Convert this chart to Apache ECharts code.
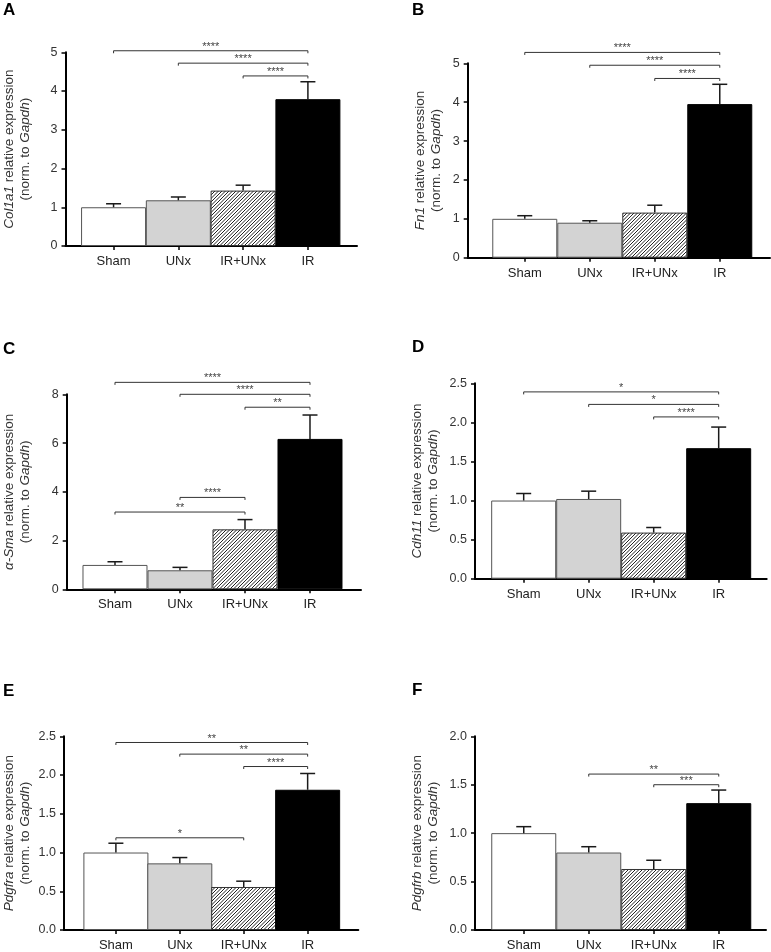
<!DOCTYPE html>
<html>
<head>
<meta charset="utf-8">
<script src="https://cdn.jsdelivr.net/npm/echarts@6/dist/echarts.min.js"></script>
<style>
  html, body { margin: 0; padding: 0; background: #fff; }
  #chart { width: 771px; height: 952px; }
</style>
</head>
<body>
<div id="chart"></div>
<script>
// ---------------- DATA ----------------
const categories = ['Sham', 'UNx', 'IR+UNx', 'IR'];

const col1a1Mean = [1.00, 1.18, 1.43, 3.79];
const col1a1Err  = [0.09, 0.085, 0.14, 0.45];
const fn1Mean    = [1.00, 0.90, 1.16, 3.95];
const fn1Err     = [0.08, 0.05, 0.19, 0.51];
const smaMean    = [1.00, 0.78, 2.46, 6.17];
const smaErr     = [0.13, 0.12, 0.40, 0.98];
const cdh11Mean  = [1.00, 1.02, 0.59, 1.67];
const cdh11Err   = [0.09, 0.10, 0.065, 0.27];
const pdgfraMean = [1.00, 0.86, 0.555, 1.81];
const pdgfraErr  = [0.12, 0.075, 0.075, 0.21];
const pdgfrbMean = [1.00, 0.80, 0.63, 1.31];
const pdgfrbErr  = [0.067, 0.06, 0.09, 0.135];

// significance brackets: [fromCategory, toCategory, yLevel]
const col1a1Brackets = [[0, 3, 5.04], [1, 3, 4.72], [2, 3, 4.39]];
const col1a1Stars    = ['****', '****', '****'];
const fn1Brackets    = [[0, 3, 5.28], [1, 3, 4.95], [2, 3, 4.61]];
const fn1Stars       = ['****', '****', '****'];
const smaBrackets    = [[0, 3, 8.49], [1, 3, 8.0], [2, 3, 7.47], [1, 2, 3.77], [0, 2, 3.17]];
const smaStars       = ['****', '****', '**', '****', '**'];
const cdh11Brackets  = [[0, 3, 2.39], [1, 3, 2.23], [2, 3, 2.07]];
const cdh11Stars     = ['*', '*', '****'];
const pdgfraBrackets = [[0, 3, 2.42], [1, 3, 2.27], [2, 3, 2.11], [0, 2, 1.19]];
const pdgfraStars    = ['**', '**', '****', '*'];
const pdgfrbBrackets = [[1, 3, 1.61], [2, 3, 1.50]];
const pdgfrbStars    = ['**', '***'];

const yTicksA = [0, 5, 1];    // min, max, interval
const yTicksC = [0, 8, 2];
const yTicksD = [0, 2.5, 0.5];
const yTicksF = [0, 2, 0.5];

// ---------------- LAYOUT ----------------
const FONT = 'Liberation Sans, Arial, Helvetica, sans-serif';
const UNIT = 65; // px per category (bars touch)

const panels = [
  { letter: 'A', lx: 3, ly: 2, gene: 'Col1a1', mean: col1a1Mean, err: col1a1Err, br: col1a1Brackets, st: col1a1Stars,
    left: 64.5, top: 52.3, width: 292.5, height: 193.7, xMin: -0.742, y: yTicksA, dec: 0, titleGap: 48.5 },
  { letter: 'B', lx: 412, ly: 2, gene: 'Fn1', mean: fn1Mean, err: fn1Err, br: fn1Brackets, st: fn1Stars,
    left: 467.7, top: 63.3, width: 302.3, height: 194.4, xMin: -0.878, y: yTicksA, dec: 0, titleGap: 39 },
  { letter: 'C', lx: 3, ly: 341, gene: 'α-Sma', mean: smaMean, err: smaErr, br: smaBrackets, st: smaStars,
    left: 66.7, top: 394.3, width: 294.3, height: 195, xMin: -0.743, y: yTicksC, dec: 0, titleGap: 49.7 },
  { letter: 'D', lx: 412, ly: 339, gene: 'Cdh11', mean: cdh11Mean, err: cdh11Err, br: cdh11Brackets, st: cdh11Stars,
    left: 475, top: 383.3, width: 291.7, height: 195.4, xMin: -0.749, y: yTicksD, dec: 1, titleGap: 50 },
  { letter: 'E', lx: 3, ly: 683, gene: 'Pdgfra', mean: pdgfraMean, err: pdgfraErr, br: pdgfraBrackets, st: pdgfraStars,
    left: 59, top: 736.3, width: 299.3, height: 195.4, xMin: -0.812, y: yTicksD, dec: 1, titleGap: 47 },
  { letter: 'F', lx: 412, ly: 682, gene: 'Pdgfrb', mean: pdgfrbMean, err: pdgfrbErr, br: pdgfrbBrackets, st: pdgfrbStars,
    left: 475, top: 736.3, width: 291, height: 195, xMin: -0.75, y: yTicksF, dec: 1, titleGap: 50 }
];

// hatch pattern for IR+UNx
function makeHatch() {
  const c = document.createElement('canvas');
  c.width = 7; c.height = 7;
  const g = c.getContext('2d');
  g.fillStyle = '#fff';
  g.fillRect(0, 0, 7, 7);
  g.strokeStyle = '#222';
  g.lineWidth = 1.0;
  for (let o = -7; o <= 14; o += 3.5) {
    g.beginPath();
    g.moveTo(o, 7);
    g.lineTo(o + 7, 0);
    g.stroke();
  }
  return c;
}
const hatch = makeHatch();

const barStyles = [
  { color: '#ffffff', borderColor: '#555', borderWidth: 1 },
  { color: '#d3d3d3', borderColor: '#555', borderWidth: 1 },
  { color: { image: hatch, repeat: 'repeat' }, borderColor: '#333', borderWidth: 1 },
  { color: '#000000', borderColor: '#000', borderWidth: 1 }
];

const grids = [], xAxes = [], yAxes = [], series = [], graphics = [];

panels.forEach((p, k) => {
  const xMax = p.xMin + p.width / UNIT;
  grids.push({ left: p.left, top: p.top, width: p.width, height: p.height, containLabel: false });
  xAxes.push({
    type: 'value', gridIndex: k, min: p.xMin, max: xMax,
    splitLine: { show: false },
    axisLine: { show: true, onZero: false, lineStyle: { color: '#000', width: 2 } },
    axisTick: { show: true, customValues: [0, 1, 2, 3], length: 4, lineStyle: { color: '#000', width: 1.5 } },
    axisLabel: {
      customValues: [0, 1, 2, 3], margin: 9,
      formatter: v => categories[Math.round(v)],
      fontFamily: FONT, fontSize: 13, color: '#222'
    }
  });
  const name = '{i|' + p.gene + '}{n| relative expression}\n{n|(norm. to }{i|Gapdh}{n|)}';
  yAxes.push({
    type: 'value', gridIndex: k, min: p.y[0], max: p.y[1], interval: p.y[2],
    splitLine: { show: false },
    axisLine: { show: true, onZero: false, lineStyle: { color: '#000', width: 2 } },
    axisTick: { show: true, length: 4, lineStyle: { color: '#000', width: 1.5 } },
    axisLabel: {
      margin: 8, fontFamily: FONT, fontSize: 12.5, color: '#333',
      formatter: v => v.toFixed(p.dec)
    },
    name: name, nameLocation: 'middle', nameRotate: 90, nameGap: p.titleGap - 16,
    nameTextStyle: {
      fontFamily: FONT, fontSize: 13.5, color: '#333', lineHeight: 16,
      rich: {
        i: { fontFamily: FONT, fontSize: 13.5, fontStyle: 'italic', color: '#333', lineHeight: 16 },
        n: { fontFamily: FONT, fontSize: 13.5, color: '#333', lineHeight: 16 }
      }
    }
  });

  series.push({
    type: 'bar', xAxisIndex: k, yAxisIndex: k, barWidth: UNIT, silent: true, animation: false,
    data: p.mean.map((v, i) => ({ value: [i, v], itemStyle: barStyles[i] }))
  });

  series.push({
    type: 'custom', xAxisIndex: k, yAxisIndex: k, silent: true, animation: false, clip: false, z: 5,
    data: p.mean.map((v, i) => [i, v, v + p.err[i]]),
    renderItem: (params, api) => {
      const b = api.coord([api.value(0), api.value(1)]);
      const t = api.coord([api.value(0), api.value(2)]);
      const ls = { stroke: '#1a1a1a', lineWidth: 1.5 };
      return {
        type: 'group', children: [
          { type: 'line', shape: { x1: b[0], y1: b[1], x2: t[0], y2: t[1] }, style: ls },
          { type: 'line', shape: { x1: t[0] - 7.5, y1: t[1], x2: t[0] + 7.5, y2: t[1] }, style: ls }
        ]
      };
    }
  });

  series.push({
    type: 'custom', xAxisIndex: k, yAxisIndex: k, silent: true, animation: false, clip: false, z: 6,
    data: p.br,
    renderItem: (params, api) => {
      const a = api.coord([api.value(0), api.value(2)]);
      const c = api.coord([api.value(1), api.value(2)]);
      const ls = { stroke: '#333', lineWidth: 1 };
      return {
        type: 'group', children: [
          { type: 'line', shape: { x1: a[0], y1: a[1], x2: c[0], y2: c[1] }, style: ls },
          { type: 'line', shape: { x1: a[0], y1: a[1], x2: a[0], y2: a[1] + 2.5 }, style: ls },
          { type: 'line', shape: { x1: c[0], y1: c[1], x2: c[0], y2: c[1] + 2.5 }, style: ls },
          { type: 'text', x: (a[0] + c[0]) / 2, y: a[1] + 1.5,
            style: { text: p.st[params.dataIndex], fontFamily: FONT, fontSize: 11, fill: '#444',
                     textAlign: 'center', textVerticalAlign: 'bottom' } }
        ]
      };
    }
  });

  graphics.push({
    type: 'text', left: p.lx, top: p.ly,
    style: { text: p.letter, fontFamily: FONT, fontSize: 17, fontWeight: 'bold', fill: '#000' }
  });
});

const chart = echarts.init(document.getElementById('chart'), null, { renderer: 'canvas' });
chart.setOption({
  animation: false,
  backgroundColor: '#fff',
  grid: grids,
  xAxis: xAxes,
  yAxis: yAxes,
  series: series,
  graphic: graphics
});
</script>
</body>
</html>
